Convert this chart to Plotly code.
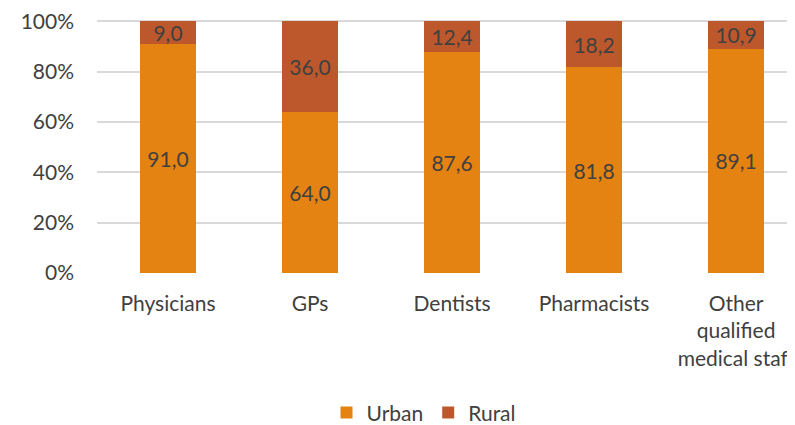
import plotly.graph_objects as go

categories = ["Physicians", "GPs", "Dentists", "Pharmacists", "Other<br>qualified<br>medical staff"]
urban = [91.0, 64.0, 87.6, 81.8, 89.1]
rural = [9.0, 36.0, 12.4, 18.2, 10.9]
y_ticks = [0, 20, 40, 60, 80, 100]
y_tick_labels = ["0%", "20%", "40%", "60%", "80%", "100%"]

def fmt(v):
    return f"{v:.1f}".replace(".", ",")

FONT = "Lato, Noto Sans, sans-serif"
TXT = "#404040"
LBL = 21

fig = go.Figure()
fig.add_bar(name="Urban", x=list(range(len(categories))), y=urban,
            marker=dict(color="#E48312", line=dict(width=0)),
            text=[fmt(v) for v in urban], textposition="inside",
            insidetextanchor="middle", textangle=0,
            textfont=dict(family=FONT, size=LBL, color=TXT), width=0.4)
fig.add_bar(name="Rural", x=list(range(len(categories))), y=rural,
            marker=dict(color="#BD582C", line=dict(width=0)),
            text=[fmt(v) for v in rural], textposition="inside",
            insidetextanchor="middle", textangle=0,
            textfont=dict(family=FONT, size=LBL, color=TXT), width=0.4)

YMAX = 100.5
plot_h = 252 * YMAX / 100.0
# page body has an 8px default margin, so the figure is offset by 8px
fig.update_layout(
    barmode="stack",
    width=787, height=417,
    margin=dict(l=89, r=0, t=265 - plot_h, b=152, autoexpand=False),
    paper_bgcolor="white", plot_bgcolor="white",
    font=dict(family=FONT, size=21, color=TXT),
    showlegend=True,
    legend=dict(orientation="h", x=0.5 - 22 / 698, xanchor="center", y=-140 / plot_h,
                yanchor="middle", yref="paper", font=dict(size=21, color=TXT),
                traceorder="normal", itemwidth=30),
    uniformtext=dict(mode="show", minsize=LBL),
)
fig.update_xaxes(tickmode="array", tickvals=list(range(len(categories))), ticktext=categories,
                 range=[-0.5, 4.415], showgrid=False, zeroline=False, showline=False,
                 automargin=False,
                 ticks="", ticklabelstandoff=16, tickfont=dict(size=21, color=TXT))
fig.update_yaxes(range=[0, YMAX], tickmode="array", tickvals=y_ticks, ticktext=y_tick_labels,
                 showgrid=True, gridcolor="#D9D9D9", gridwidth=2, zeroline=False,
                 automargin=False, ticklabeloverflow="allow",
                 showline=False, ticks="", ticklabelstandoff=22, tickfont=dict(size=21, color=TXT))

fig.write_html("out.html")
